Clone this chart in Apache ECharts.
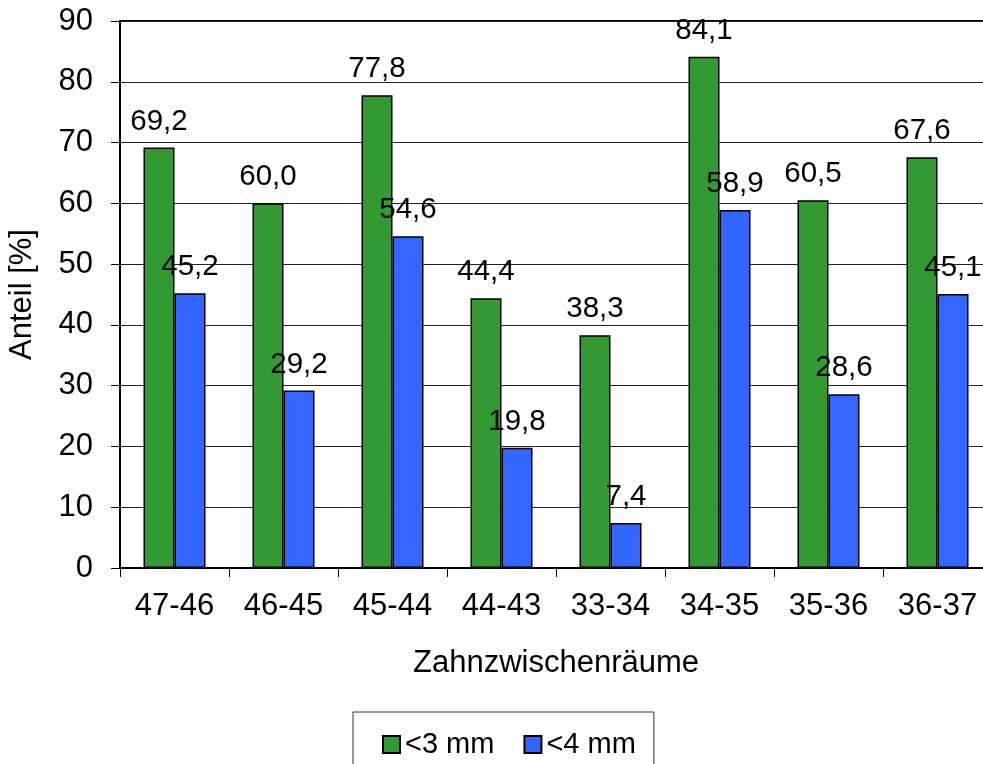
<!DOCTYPE html>
<html><head><meta charset="utf-8">
<script src="https://cdn.jsdelivr.net/npm/echarts@6/dist/echarts.min.js"></script>
<style>html,body{margin:0;padding:0;background:#fff}#c{width:983px;height:764px}</style>
</head><body><div id="c"></div>
<script>
const categories = ['47-46','46-45','45-44','44-43','33-34','34-35','35-36','36-37'];
const seriesNames = ['<3 mm','<4 mm'];
const values3mm = [69.2, 60.0, 77.8, 44.4, 38.3, 84.1, 60.5, 67.6];
const values4mm = [45.2, 29.2, 54.6, 19.8, 7.4, 58.9, 28.6, 45.1];
const yTicks = {min: 0, max: 90, interval: 10};

const FONT = 'Liberation Sans, Arial, sans-serif';
const FS = 31;
const chart = echarts.init(document.getElementById('c'), null, {renderer: 'canvas'});
const fmt = p => p.value.toFixed(1).replace('.', ',');
const mkSeries = (name, data, color) => ({
  name, type: 'bar', data, barWidth: 31, barGap: '0%',
  itemStyle: {color, borderColor: '#000', borderWidth: 1.5},
  label: {show: true, position: 'top', distance: 11, formatter: fmt,
    fontFamily: FONT, fontSize: 29.5, color: '#000'}
});
chart.setOption({
  animation: false,
  backgroundColor: '#fff',
  textStyle: {fontFamily: FONT, color: '#000'},
  grid: {left: 120, top: 21, width: 872, bottom: 196, show: true, borderColor: '#000', borderWidth: 2,
    containLabel: false, outerBoundsMode: 'none'},
  legend: {
    left: 353, top: 712,
    orient: 'horizontal',
    padding: [18, 18, 40, 29],
    borderColor: '#333', borderWidth: 1,
    itemWidth: 17, itemHeight: 17, itemGap: 29,
    icon: 'rect',
    textStyle: {fontFamily: FONT, fontSize: 29, color: '#000'},
    data: seriesNames
  },
  xAxis: {
    type: 'category', data: categories,
    name: 'Zahnzwischenräume', nameLocation: 'middle', nameGap: 80,
    nameTextStyle: {fontFamily: FONT, fontSize: FS, color: '#000'},
    axisLine: {lineStyle: {color: '#000', width: 2}},
    axisTick: {show: true, length: 9, lineStyle: {color: '#000', width: 1}},
    axisLabel: {fontFamily: FONT, fontSize: FS, color: '#000', margin: 23}
  },
  yAxis: {
    type: 'value', min: yTicks.min, max: yTicks.max, interval: yTicks.interval,
    name: 'Anteil [%]', nameLocation: 'middle', nameGap: 82, nameRotate: 90,
    nameTextStyle: {fontFamily: FONT, fontSize: FS, color: '#000'},
    axisLine: {show: true, lineStyle: {color: '#000', width: 2}},
    axisTick: {show: true, length: 9, lineStyle: {color: '#000', width: 1}},
    axisLabel: {fontFamily: FONT, fontSize: FS, color: '#000', margin: 27},
    splitLine: {show: true, lineStyle: {color: '#222', width: 1}}
  },
  series: [
    mkSeries(seriesNames[0], values3mm, '#339933'),
    mkSeries(seriesNames[1], values4mm, '#3366FF')
  ]
});
</script></body></html>
